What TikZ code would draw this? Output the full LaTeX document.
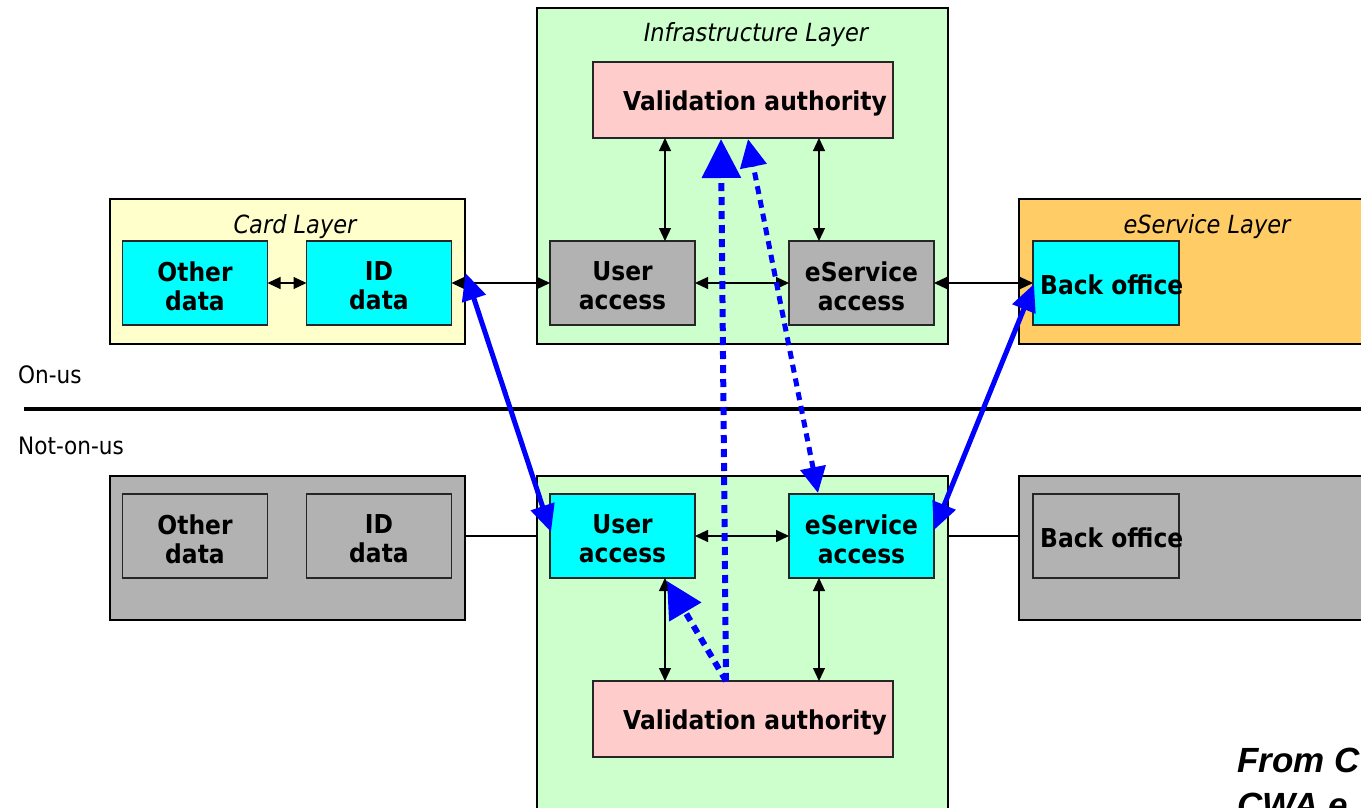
\documentclass[tikz,border=0pt]{standalone}
\usepackage{fontspec}
\setmainfont{DejaVu Sans}[FakeStretch=0.9]
\newfontfamily\notefont{Liberation Sans}
\usetikzlibrary{arrows.meta,calc}
\definecolor{cardfill}{HTML}{FFFFCC}
\definecolor{infrafill}{HTML}{CCFFCC}
\definecolor{vafill}{HTML}{FFCCCC}
\definecolor{esfill}{HTML}{FFCC66}
\definecolor{offgray}{HTML}{B2B2B2}
\definecolor{aqua}{HTML}{00FFFF}
\begin{document}
\begin{tikzpicture}[x=1pt,y=-1pt,
  layer/.style={draw=black, line width=1.8pt, inner sep=0pt, outer sep=0pt},
  blbl/.style={inner sep=0pt, align=center, font=\bfseries\fontsize{26}{29}\selectfont},
  box/.style={draw=black!85, line width=1.3pt, inner sep=0pt, outer sep=0pt,
    minimum width=145pt, minimum height=84pt},
  txt/.style={label={[blbl, yshift=-3pt]center:#1}},
  vabox/.style={box, fill=vafill, minimum width=300pt, minimum height=76pt,
    label={[blbl, xshift=12pt, yshift=-3pt]center:Validation authority}},
  bobox/.style={box, minimum width=146pt,
    label={[blbl, anchor=west, xshift=7pt, yshift=-2pt]west:Back office}},
  ttl/.style={font=\itshape\fontsize{25}{30}\selectfont, anchor=base, inner sep=0pt},
  side/.style={font=\fontsize{24}{28}\selectfont, anchor=base west, inner sep=0pt},
  link/.style={line width=1.2pt, {Triangle[length=13pt,width=12pt]}-{Triangle[length=13pt,width=12pt]}},
  plainlink/.style={line width=1.1pt},
  thickblue/.style={draw=blue, line width=5pt,
    {Triangle[length=27pt,width=24pt]}-{Triangle[length=27pt,width=24pt]}},
  dotblue/.style={draw=blue, line width=6pt, dash pattern=on 8pt off 6pt},
]
\useasboundingbox (0,0) rectangle (1361,808);
\fill[white] (0,0) rectangle (1361,808);

% ---- on-us layers ----
\node[layer, fill=cardfill, minimum width=355pt, minimum height=145pt] (card) at (287.5,271.5) {};
\node[ttl] (cardt) at (295,233) {Card Layer};
\node[layer, fill=infrafill, minimum width=411pt, minimum height=336pt] (infrat) at (742.5,176) {};
\node[ttl] (infratt) at (756,42) {Infrastructure Layer};
\node[layer, fill=esfill, minimum width=356pt, minimum height=145pt] (eserv) at (1197,271.5) {};
\node[ttl] (eservt) at (1207,233) {eService Layer};

\node[box, fill=aqua, txt={Other\\data}] (ODt) at (195,283) {};
\node[box, fill=aqua, txt={ID\\data}] (IDt) at (379,283) {};
\node[vabox] (VAt) at (743,100) {};
\node[box, fill=offgray, txt={User\\access}] (UAt) at (622.5,283) {};
\node[box, fill=offgray, txt={eService\\access}] (ESt) at (861.5,283) {};
\node[bobox, fill=aqua] (BOt) at (1106,283) {};

% ---- divider ----
\node[side] (onus) at (18,383) {On-us};
\node[side] (notonus) at (18,454) {Not-on-us};
\coordinate (divl) at (24,409);
\coordinate (divr) at (1361,409);
\draw[line width=4pt] (divl) -- (divr);

% ---- not-on-us layers ----
\node[layer, fill=offgray, minimum width=355pt, minimum height=144pt] (cardb) at (287.5,548) {};
\node[layer, fill=infrafill, minimum width=411pt, minimum height=354pt] (infrab) at (742.5,653) {};
\node[layer, fill=offgray, minimum width=356pt, minimum height=144pt] (eservb) at (1197,548) {};

\node[box, fill=offgray, txt={Other\\data}] (ODb) at (195,536) {};
\node[box, fill=offgray, txt={ID\\data}] (IDb) at (379,536) {};
\node[box, fill=aqua, txt={User\\access}] (UAb) at (622.5,536) {};
\node[box, fill=aqua, txt={eService\\access}] (ESb) at (861.5,536) {};
\node[vabox] (VAb) at (743,719) {};
\node[bobox, fill=offgray] (BOb) at (1106,536) {};

% ---- black links ----
\draw[link] (ODt) -- (IDt);
\draw[link] (IDt) -- (UAt);
\draw[link] (UAt) -- (ESt);
\draw[link] (ESt) -- (BOt);
\draw[link] (VAt.south -| 665,0) -- (UAt.north -| 665,0);
\draw[link] (VAt.south -| 819,0) -- (ESt.north -| 819,0);

\draw[plainlink] (cardb.east |- IDb) -- (infrab.west |- UAb);
\draw[link] (UAb) -- (ESb);
\draw[plainlink] (infrab.east |- ESb) -- (eservb.west |- ESb);
\draw[link] (UAb.south -| 665,0) -- (VAb.north -| 665,0);
\draw[link] (ESb.south -| 819,0) -- (VAb.north -| 819,0);

% ---- blue links ----
\coordinate (vaout) at ($(VAb.north)+(-17,0)$);
\draw[dotblue, -{Triangle[length=39pt,width=38pt]}] (vaout) -- ($(VAt.south)+(-22,1)$);
\draw[dotblue, -{Triangle[length=36pt,width=36pt]}] (vaout) -- ($(UAb.south)+(44.5,3)$);
\draw[dotblue, line width=5pt, {Triangle[length=26pt,width=25pt]}-{Triangle[length=28pt,width=26pt]}]
  ($(ESb.north)+(-43.5,-1)$) -- ($(VAt.south)+(5,1)$);
\draw[thickblue] ($(IDt.east)+(14,-10)$) -- ($(UAb.west)+(1,-4)$);
\draw[thickblue] ($(BOt.west)+(1,1)$) -- ($(ESb.east)+(0,-6)$);

% ---- source note ----
\node[anchor=base west, inner sep=0pt, align=left,
  font=\notefont\bfseries\itshape\fontsize{35}{45}\selectfont] (note) at (1237,817) {From C\\CWA e};
\end{tikzpicture}
\end{document}
